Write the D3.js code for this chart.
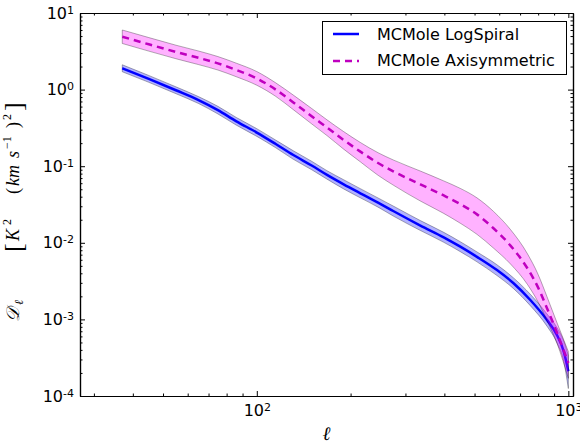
<!DOCTYPE html>
<html>
<head>
<meta charset="utf-8">
<script src="https://cdn.jsdelivr.net/npm/d3@7"></script>
<style>
  body { margin: 0; background: #fff; }
  svg { display: block; }
</style>
</head>
<body>
<svg id="chart" width="580" height="447"></svg>
<script>
// Angular power spectrum D_ell for two MCMole models, with uncertainty envelopes
const spiralEll = [37, 45, 55, 65, 75, 86, 100, 115, 131, 150, 168, 190, 215, 245, 275, 335, 398, 450, 509, 590, 667, 755, 854, 920, 967, 1000];
const spiralD   = [1.90, 1.38, 0.98, 0.73, 0.54, 0.385, 0.275, 0.195, 0.14, 0.102, 0.077, 0.058, 0.0443, 0.0335, 0.0258, 0.0168, 0.0118, 0.0089, 0.00655, 0.0044, 0.00296, 0.00179, 0.00098, 0.00062, 0.00038, 0.00021];
const spiralLo  = [1.71, 1.245, 0.884, 0.658, 0.481, 0.343, 0.245, 0.174, 0.123, 0.0899, 0.0678, 0.0505, 0.0386, 0.0292, 0.0222, 0.01447, 0.01016, 0.00766, 0.00564, 0.00374, 0.00252, 0.00151, 0.000815, 0.00049, 0.00028, 0.000125];
const spiralHi  = [2.11, 1.53, 1.087, 0.81, 0.605, 0.432, 0.309, 0.219, 0.159, 0.116, 0.0874, 0.0666, 0.0509, 0.0385, 0.0300, 0.0195, 0.0137, 0.01033, 0.0076, 0.00517, 0.00348, 0.00213, 0.00118, 0.00078, 0.00052, 0.00034];

const axiEll = [37, 45, 55, 65, 75, 86, 100, 115, 131, 150, 168, 190, 215, 245, 275, 335, 398, 450, 509, 575, 652, 740, 800, 854, 921, 1000];
const axiD   = [4.9, 3.9, 3.1, 2.6, 2.2, 1.80, 1.40, 1.0, 0.68, 0.45, 0.32, 0.22, 0.155, 0.11, 0.085, 0.058, 0.0415, 0.032, 0.0235, 0.0155, 0.0092, 0.0046, 0.0026, 0.0014, 0.00066, 0.00027];
const axiLo  = [4.0, 3.18, 2.53, 2.12, 1.80, 1.47, 1.14, 0.816, 0.547, 0.357, 0.251, 0.167, 0.114, 0.0761, 0.0562, 0.0351, 0.0242, 0.0180, 0.0129, 0.00853, 0.00529, 0.00284, 0.00168, 0.00097, 0.00048, 0.00017];
const axiHi  = [6.0, 4.78, 3.80, 3.19, 2.70, 2.21, 1.72, 1.225, 0.847, 0.567, 0.403, 0.283, 0.204, 0.150, 0.120, 0.0864, 0.0643, 0.0513, 0.0386, 0.0257, 0.0149, 0.00713, 0.00385, 0.00198, 0.00089, 0.00038];

const seriesNames = ["MCMole LogSpiral", "MCMole Axisymmetric"];

const xMajorTicks = [100, 1000];
const xTickExponents = ["2", "3"];
const yMajorTicks = [1e-4, 1e-3, 1e-2, 1e-1, 1, 10];
const yTickExponents = ["-4", "-3", "-2", "-1", "0", "1"];

const svg = d3.select("#chart");
const plot = { left: 80, right: 573, top: 13, bottom: 396 };

const x = d3.scaleLog().domain([27.07, 1035]).range([plot.left, plot.right]);
const y = d3.scaleLog().domain([1e-4, 10]).range([plot.bottom, plot.top]);

// minor ticks at 2..9 times each decade inside the domain
function minorTicks(scale) {
  const [a, b] = scale.domain();
  const out = [];
  for (let e = Math.floor(Math.log10(a)); e <= Math.ceil(Math.log10(b)); e++) {
    for (let m = 2; m <= 9; m++) {
      const v = m * Math.pow(10, e);
      if (v >= a && v <= b) out.push(v);
    }
  }
  return out;
}
const xMinor = minorTicks(x);
const yMinor = minorTicks(y);

const toRows = (ell, d, lo, hi) => ell.map((l, i) => ({ l, d: d[i], lo: lo[i], hi: hi[i] }));
const spiral = toRows(spiralEll, spiralD, spiralLo, spiralHi);
const axi = toRows(axiEll, axiD, axiLo, axiHi);

svg.append("clipPath").attr("id", "plotclip")
  .append("rect").attr("x", plot.left).attr("y", plot.top)
  .attr("width", plot.right - plot.left).attr("height", plot.bottom - plot.top);

const area = d3.area().curve(d3.curveMonotoneX)
  .x(r => x(r.l)).y0(r => y(r.lo)).y1(r => y(r.hi));
const line = d3.line().curve(d3.curveMonotoneX)
  .x(r => x(r.l)).y(r => y(r.d));

const marks = svg.append("g").attr("clip-path", "url(#plotclip)");

marks.append("path").datum(spiral).attr("d", area)
  .attr("fill", "rgba(0,0,255,0.3)").attr("stroke", "rgba(0,0,0,0.3)").attr("stroke-width", 1);
marks.append("path").datum(spiral).attr("d", line)
  .attr("fill", "none").attr("stroke", "#0000ff").attr("stroke-width", 2.5);

marks.append("path").datum(axi).attr("d", area)
  .attr("fill", "rgba(255,0,255,0.3)").attr("stroke", "rgba(0,0,0,0.3)").attr("stroke-width", 1);
marks.append("path").datum(axi).attr("d", line)
  .attr("fill", "none").attr("stroke", "#bf00bf").attr("stroke-width", 2.5)
  .attr("stroke-dasharray", "7,5");

// axes: inward ticks on all four sides
const tickFont = "'DejaVu Sans', sans-serif";
function styleAxis(g) {
  g.attr("font-family", tickFont).attr("font-size", 16);
  g.selectAll("path.domain").attr("stroke", "#000").attr("stroke-width", 1.2);
  g.selectAll(".tick line").attr("stroke", "#000").attr("stroke-width", 1);
}

function supLabels(g, exps) {
  g.selectAll(".tick text").each(function (d, i) {
    const t = d3.select(this).text(null).attr("fill", "#000");
    t.append("tspan").text("10");
    t.append("tspan").attr("font-size", 11).attr("dy", "-0.45em").text(exps[i]);
  });
}

// bottom
const gB = svg.append("g").attr("transform", `translate(0,${plot.bottom})`)
  .call(d3.axisBottom(x).tickValues(xMajorTicks).tickSize(-5).tickSizeOuter(0).tickPadding(8.5).tickFormat(() => ""));
styleAxis(gB); supLabels(gB, xTickExponents);
svg.append("g").attr("transform", `translate(0,${plot.bottom})`)
  .call(d3.axisBottom(x).tickValues(xMinor).tickSize(-2.5).tickSizeOuter(0).tickFormat(() => ""))
  .call(styleAxis);

// top
svg.append("g").attr("transform", `translate(0,${plot.top})`)
  .call(d3.axisTop(x).tickValues(xMajorTicks).tickSize(-5).tickSizeOuter(0).tickFormat(() => ""))
  .call(styleAxis);
svg.append("g").attr("transform", `translate(0,${plot.top})`)
  .call(d3.axisTop(x).tickValues(xMinor).tickSize(-2.5).tickSizeOuter(0).tickFormat(() => ""))
  .call(styleAxis);

// left
const gL = svg.append("g").attr("transform", `translate(${plot.left},0)`)
  .call(d3.axisLeft(y).tickValues(yMajorTicks).tickSize(-5).tickSizeOuter(0).tickPadding(6).tickFormat(() => ""));
styleAxis(gL); supLabels(gL, yTickExponents);
svg.append("g").attr("transform", `translate(${plot.left},0)`)
  .call(d3.axisLeft(y).tickValues(yMinor).tickSize(-2.5).tickSizeOuter(0).tickFormat(() => ""))
  .call(styleAxis);

// right
svg.append("g").attr("transform", `translate(${plot.right},0)`)
  .call(d3.axisRight(y).tickValues(yMajorTicks).tickSize(-5).tickSizeOuter(0).tickFormat(() => ""))
  .call(styleAxis);
svg.append("g").attr("transform", `translate(${plot.right},0)`)
  .call(d3.axisRight(y).tickValues(yMinor).tickSize(-2.5).tickSizeOuter(0).tickFormat(() => ""))
  .call(styleAxis);

// axis titles
const mathFont = "'Liberation Serif', 'DejaVu Serif', serif";
svg.append("text")
  .attr("x", (plot.left + plot.right) / 2).attr("y", 440)
  .attr("text-anchor", "middle")
  .attr("font-family", mathFont).attr("font-style", "italic").attr("font-size", 19)
  .text("\u2113");

// y title, laid out piece by piece along the rotated baseline
const yl = svg.append("text")
  .attr("transform", "translate(19,322) rotate(-90)")
  .attr("font-family", mathFont).attr("font-size", 18).attr("fill", "#000");
const ylPieces = [
  { t: "\uD835\uDC9F", x: 0,   y: 0,  size: 18, italic: true, family: "'DejaVu Serif', 'DejaVu Sans', serif" },
  { t: "\u2113",       x: 17,  y: 4,  size: 12, italic: true },
  { t: "[",            x: 70,  y: 3,  size: 26 },
  { t: "K",            x: 81,  y: 0,  size: 18, italic: true },
  { t: "2",            x: 97,  y: -8, size: 12 },
  { t: "(",            x: 128, y: 0,  size: 18 },
  { t: "km",           x: 136, y: 0,  size: 18, italic: true },
  { t: "s",            x: 164, y: 0,  size: 18, italic: true },
  { t: "\u22121",      x: 173, y: -8, size: 12 },
  { t: ")",            x: 194, y: 0,  size: 18 },
  { t: "2",            x: 202, y: -8, size: 12 },
  { t: "]",            x: 211, y: 3,  size: 26 }
];
ylPieces.forEach(p => {
  const s = yl.append("tspan").attr("x", p.x).attr("y", p.y).attr("font-size", p.size).text(p.t);
  if (p.italic) s.attr("font-style", "italic");
  if (p.family) s.attr("font-family", p.family);
});

// legend
const legend = svg.append("g");
legend.append("rect").attr("x", 322.5).attr("y", 21.5).attr("width", 244).attr("height", 53)
  .attr("fill", "#fff").attr("stroke", "#000").attr("stroke-width", 1);
const legendStyles = [
  { color: "#0000ff", dash: null, yLine: 34, yText: 39.5 },
  { color: "#bf00bf", dash: "7,5", yLine: 61, yText: 66 }
];
seriesNames.forEach((name, i) => {
  const s = legendStyles[i];
  legend.append("line").attr("x1", 333).attr("x2", 359).attr("y1", s.yLine).attr("y2", s.yLine)
    .attr("stroke", s.color).attr("stroke-width", 2.5).attr("stroke-dasharray", s.dash);
  legend.append("text").attr("x", 377).attr("y", s.yText)
    .attr("font-family", tickFont).attr("font-size", 16).attr("fill", "#000").text(name);
});
</script>
</body>
</html>
